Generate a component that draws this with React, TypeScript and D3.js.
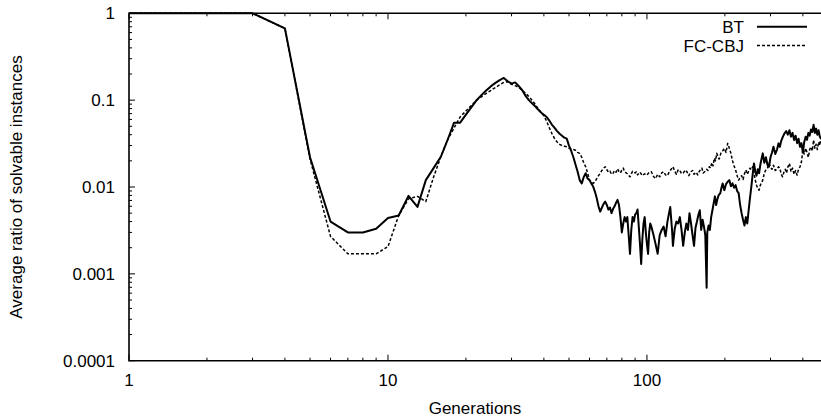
import React from 'react';
import * as d3 from 'd3';

// Average ratio of solvable instances per generation, two solvers.
const btPoints: [number, number][] = [
  [1, 1], [2, 1], [3, 1], [4, 0.67], [5, 0.022], [6, 0.004], [7, 0.003], [8, 0.003], [9, 0.0033], [10, 0.0044],
  [11, 0.0047], [12, 0.0079], [13, 0.0059], [14, 0.012], [15, 0.0165], [16, 0.0223], [17, 0.035], [18, 0.055], [19, 0.055], [20, 0.068],
  [21, 0.083], [22, 0.1], [23, 0.115], [24, 0.13], [25, 0.145], [26, 0.158], [27, 0.17], [28, 0.18], [29, 0.165], [30, 0.155],
  [31, 0.16], [32, 0.145], [33, 0.13], [34, 0.112], [35, 0.1], [36, 0.092], [37, 0.085], [38, 0.078], [39, 0.072], [40, 0.068],
  [41, 0.064], [42, 0.058], [43, 0.052], [44, 0.048], [45, 0.044], [46, 0.041], [47, 0.039], [48, 0.037], [49, 0.036], [50, 0.03],
  [51, 0.026], [52, 0.022], [53, 0.018], [54, 0.015], [55, 0.012], [56, 0.011], [57, 0.013], [58, 0.0144], [59, 0.0125], [60, 0.012],
  [61, 0.011], [62, 0.0101], [63, 0.0088], [64, 0.0074], [65, 0.006], [66, 0.0052], [67, 0.0058], [68, 0.0064], [69, 0.0068], [70, 0.0062],
  [71, 0.0055], [72, 0.0058], [73, 0.005], [74, 0.0056], [75, 0.006], [76, 0.0066], [77, 0.0071], [78, 0.0062], [79, 0.0045], [80, 0.003],
  [81, 0.0038], [82, 0.0045], [83, 0.004], [84, 0.0045], [85, 0.0028], [86, 0.0017], [87, 0.0032], [88, 0.0045], [89, 0.004], [90, 0.0048],
  [91, 0.005], [92, 0.0055], [93, 0.0035], [94, 0.0022], [95, 0.0013], [96, 0.0025], [97, 0.0038], [98, 0.0045], [99, 0.003], [100, 0.0022],
  [101, 0.0017], [102, 0.003], [103, 0.0038], [104, 0.0035], [106, 0.0028], [108, 0.0022], [110, 0.0017], [112, 0.0028], [114, 0.0032], [116, 0.0035],
  [118, 0.0027], [120, 0.004], [122, 0.0052], [123, 0.0059], [125, 0.0032], [126, 0.0021], [128, 0.0033], [130, 0.004], [132, 0.0038], [134, 0.0045],
  [136, 0.0032], [138, 0.0021], [140, 0.003], [142, 0.0038], [144, 0.0032], [146, 0.005], [148, 0.0038], [150, 0.0028], [152, 0.0021], [154, 0.0034],
  [156, 0.004], [158, 0.0048], [160, 0.0054], [162, 0.0032], [164, 0.0042], [166, 0.0035], [168, 0.0028], [170, 0.00069], [171, 0.003], [173, 0.0036],
  [175, 0.0032], [177, 0.0045], [179, 0.0054], [181, 0.0065], [183, 0.0078], [185, 0.0062], [187, 0.0072], [189, 0.008], [192, 0.0085], [194, 0.0098],
  [196, 0.011], [199, 0.0092], [202, 0.0108], [205, 0.0115], [208, 0.012], [211, 0.0102], [214, 0.011], [217, 0.0098], [220, 0.0105], [223, 0.009],
  [226, 0.0085], [229, 0.0062], [232, 0.005], [235, 0.0042], [238, 0.0036], [241, 0.0045], [244, 0.0038], [247, 0.0054], [250, 0.0075], [253, 0.0101],
  [256, 0.014], [259, 0.0187], [262, 0.015], [265, 0.0135], [268, 0.016], [271, 0.0144], [274, 0.018], [277, 0.021], [280, 0.0244], [284, 0.019],
  [288, 0.022], [292, 0.018], [296, 0.0171], [300, 0.022], [304, 0.025], [308, 0.0291], [313, 0.024], [318, 0.027], [322, 0.0318], [326, 0.029],
  [330, 0.034], [335, 0.038], [340, 0.0415], [345, 0.044], [350, 0.04], [355, 0.045], [360, 0.038], [365, 0.042], [370, 0.0348], [375, 0.039],
  [380, 0.032], [385, 0.036], [390, 0.029], [395, 0.032], [400, 0.025], [405, 0.033], [410, 0.038], [415, 0.035], [420, 0.042], [425, 0.039],
  [430, 0.046], [435, 0.043], [440, 0.052], [445, 0.042], [450, 0.047], [455, 0.04], [460, 0.045], [465, 0.038], [470, 0.036],
];

const fcPoints: [number, number][] = [
  [1, 1], [2, 1], [3, 1], [4, 0.67], [5, 0.021], [6, 0.0027], [7, 0.0017], [8, 0.0017], [9, 0.0017], [10, 0.00206],
  [11, 0.0047], [12, 0.0073], [13, 0.0078], [14, 0.0068], [15, 0.013], [16, 0.0223], [17, 0.035], [18, 0.048], [19, 0.064], [20, 0.075],
  [21, 0.087], [22, 0.1], [23, 0.11], [24, 0.12], [25, 0.13], [26, 0.14], [27, 0.15], [28, 0.16], [29, 0.163], [30, 0.152],
  [31, 0.147], [32, 0.14], [33, 0.13], [34, 0.12], [35, 0.11], [36, 0.1], [37, 0.09], [38, 0.08], [39, 0.072], [40, 0.066],
  [41, 0.057], [42, 0.048], [43, 0.041], [44, 0.036], [45, 0.033], [46, 0.031], [47, 0.03], [48, 0.0295], [49, 0.029], [50, 0.028],
  [51, 0.0275], [52, 0.027], [53, 0.0265], [54, 0.025], [55, 0.0244], [56, 0.022], [57, 0.019], [58, 0.0171], [59, 0.0145], [60, 0.012],
  [61, 0.0115], [62, 0.011], [63, 0.0115], [64, 0.0125], [65, 0.0135], [66, 0.0144], [67, 0.0155], [68, 0.0165], [69, 0.0171], [70, 0.0158],
  [71, 0.0148], [72, 0.0152], [73, 0.014], [74, 0.0144], [75, 0.0155], [76, 0.0148], [77, 0.0162], [78, 0.015], [79, 0.0145], [80, 0.0157],
  [81, 0.0165], [82, 0.015], [84, 0.0142], [86, 0.0131], [88, 0.0152], [90, 0.0145], [91, 0.015], [92, 0.0138], [94, 0.0148], [96, 0.0135],
  [98, 0.0142], [100, 0.0137], [102, 0.0148], [104, 0.015], [106, 0.0132], [108, 0.0125], [110, 0.014], [112, 0.0131], [114, 0.0145], [116, 0.015],
  [118, 0.0138], [120, 0.0135], [122, 0.015], [124, 0.016], [126, 0.0171], [128, 0.0152], [130, 0.014], [132, 0.0158], [134, 0.0155], [136, 0.0142],
  [138, 0.0145], [141, 0.0157], [143, 0.0148], [145, 0.0135], [148, 0.015], [150, 0.0155], [152, 0.014], [155, 0.0148], [157, 0.0138], [159, 0.015],
  [161, 0.0158], [163, 0.0165], [165, 0.0145], [168, 0.0152], [170, 0.016], [172, 0.0155], [174, 0.0171], [176, 0.0165], [178, 0.019], [180, 0.0175],
  [182, 0.0215], [184, 0.02], [186, 0.0244], [188, 0.0222], [190, 0.021], [193, 0.0245], [196, 0.026], [199, 0.0279], [202, 0.025], [205, 0.0318],
  [208, 0.028], [211, 0.0244], [214, 0.02], [217, 0.0175], [220, 0.0157], [223, 0.0135], [226, 0.012], [229, 0.0128], [232, 0.0135], [235, 0.0122],
  [238, 0.0142], [241, 0.0157], [244, 0.014], [247, 0.0152], [250, 0.0165], [253, 0.0158], [256, 0.0171], [259, 0.0145], [262, 0.012], [265, 0.0105],
  [268, 0.0095], [271, 0.0092], [274, 0.0105], [277, 0.0112], [280, 0.012], [284, 0.0145], [288, 0.0158], [292, 0.0165], [296, 0.0187], [300, 0.017],
  [304, 0.016], [308, 0.0178], [313, 0.0155], [318, 0.016], [322, 0.0171], [326, 0.0165], [330, 0.014], [334, 0.0131], [338, 0.0148], [342, 0.016],
  [346, 0.0145], [350, 0.017], [355, 0.0187], [360, 0.015], [365, 0.0165], [370, 0.014], [375, 0.0155], [380, 0.0137], [385, 0.016], [390, 0.0171],
  [395, 0.0195], [400, 0.0267], [405, 0.024], [410, 0.028], [415, 0.025], [420, 0.022], [425, 0.027], [430, 0.029], [435, 0.026], [440, 0.0348],
  [445, 0.028], [450, 0.031], [455, 0.027], [460, 0.033], [465, 0.03], [470, 0.038],
];

const seriesNames = ['BT', 'FC-CBJ'];
const xTickValues = [1, 10, 100];
const xTickLabels = ['1', '10', '100'];
const yTickValues = [0.0001, 0.001, 0.01, 0.1, 1];
const yTickLabels = ['0.0001', '0.001', '0.01', '0.1', '1'];
const xDomain: [number, number] = [1, 470];
const yDomain: [number, number] = [0.0001, 1];

const W = 821;
const H = 419;
const left = 129;
const right = 821;
const top = 13.3;
const bottom = 360.7;
const FONT = '"Liberation Sans", Arial, Helvetica, sans-serif';
const FS = 17;

export default function App() {
  const x = d3.scaleLog().domain(xDomain).range([left, right]);
  const y = d3.scaleLog().domain(yDomain).range([bottom, top]);

  const line = d3
    .line<[number, number]>()
    .x((d) => x(d[0]))
    .y((d) => y(d[1]));

  const xMinor: number[] = [];
  xTickValues.forEach((d) => {
    for (let k = 2; k <= 9; k++) if (d * k <= xDomain[1]) xMinor.push(d * k);
  });
  const yMinor: number[] = [];
  yTickValues.slice(0, -1).forEach((d) => {
    for (let k = 2; k <= 9; k++) yMinor.push(d * k);
  });

  const major = 6;
  const minor = 3;

  return (
    <svg
      width={W}
      height={H}
      viewBox={`0 0 ${W} ${H}`}
      style={{ position: 'absolute', left: 0, top: 0, background: '#fff' }}
      fontFamily={FONT}
      fontSize={FS}
    >
      <defs>
        <clipPath id="plot-area">
          <rect x={left} y={top - 2} width={right - left} height={bottom - top + 2} />
        </clipPath>
      </defs>
      <rect x={0} y={0} width={W} height={H} fill="#fff" />

      {/* ticks, mirrored on the top edge */}
      <g stroke="#000" strokeWidth={1}>
        {xTickValues.map((v) => (
          <g key={`xM${v}`}>
            <line x1={x(v)} x2={x(v)} y1={bottom} y2={bottom - major} />
            <line x1={x(v)} x2={x(v)} y1={top} y2={top + major} />
          </g>
        ))}
        {xMinor.map((v) => (
          <g key={`xm${v}`}>
            <line x1={x(v)} x2={x(v)} y1={bottom} y2={bottom - minor} />
            <line x1={x(v)} x2={x(v)} y1={top} y2={top + minor} />
          </g>
        ))}
        {yTickValues.map((v) => (
          <line key={`yM${v}`} x1={left} x2={left + major} y1={y(v)} y2={y(v)} />
        ))}
        {yMinor.map((v) => (
          <line key={`ym${v}`} x1={left} x2={left + minor} y1={y(v)} y2={y(v)} />
        ))}
      </g>

      {/* frame */}
      <path
        d={`M${right},${top}H${left}V${bottom}H${right}`}
        fill="none"
        stroke="#000"
        strokeWidth={1.6}
      />

      {/* tick labels */}
      {yTickValues.map((v, i) => (
        <text key={`yl${v}`} x={left - 14} y={y(v) + 6} textAnchor="end" fill="#000">
          {yTickLabels[i]}
        </text>
      ))}
      {xTickValues.map((v, i) => (
        <text key={`xl${v}`} x={x(v)} y={386} textAnchor="middle" fill="#000">
          {xTickLabels[i]}
        </text>
      ))}

      {/* axis titles */}
      <text x={(left + right) / 2} y={414} textAnchor="middle" fill="#000">
        Generations
      </text>
      <text
        transform={`translate(22,${(top + bottom) / 2}) rotate(-90)`}
        textAnchor="middle"
        fill="#000"
      >
        Average ratio of solvable instances
      </text>

      {/* series */}
      <g clipPath="url(#plot-area)" fill="none" stroke="#000" strokeLinejoin="round">
        <path d={line(fcPoints) ?? ''} strokeWidth={1.5} strokeDasharray="3,2" />
        <path d={line(btPoints) ?? ''} strokeWidth={2} />
      </g>

      {/* legend */}
      <g fill="#000">
        <text x={744} y={33} textAnchor="end">{seriesNames[0]}</text>
        <line x1={757} x2={807} y1={26.7} y2={26.7} stroke="#000" strokeWidth={2} />
        <text x={744} y={51.5} textAnchor="end">{seriesNames[1]}</text>
        <line
          x1={757}
          x2={807}
          y1={45.5}
          y2={45.5}
          stroke="#000"
          strokeWidth={1.5}
          strokeDasharray="3,2"
        />
      </g>
    </svg>
  );
}
